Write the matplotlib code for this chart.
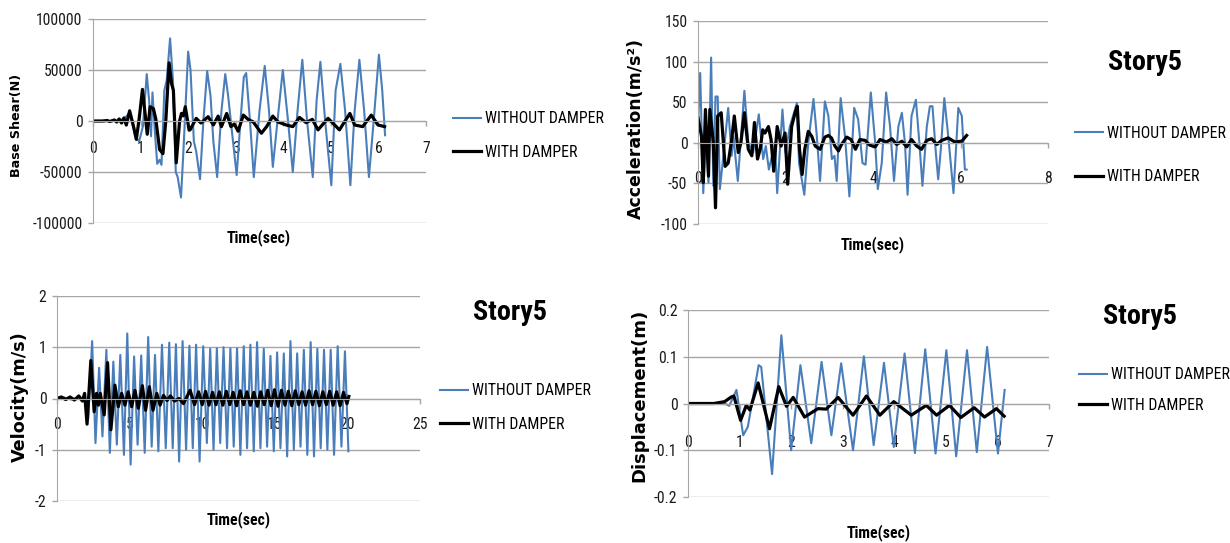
import numpy as np
import matplotlib
matplotlib.use('Agg')
import matplotlib.pyplot as plt
from matplotlib import font_manager

# --- data ---
# Base shear (N), story 5
shear_t_wo = [0, 0.3, 0.5, 0.65, 0.77, 0.9, 0.97, 1.05, 1.13, 1.18, 1.22, 1.25, 1.3, 1.35, 1.4, 1.44,
              1.5, 1.55, 1.62, 1.68, 1.74, 1.78, 1.85, 1.9, 2.0, 2.05, 2.12, 2.17, 2.25, 2.32, 2.4, 2.47,
              2.53, 2.61, 2.7, 2.78, 2.84, 2.92, 3.02, 3.1, 3.17, 3.22, 3.3, 3.38, 3.5, 3.61, 3.7, 3.78,
              3.9, 3.99, 4.1, 4.2, 4.3, 4.4, 4.5, 4.62, 4.7, 4.78, 4.88, 5.01, 5.1, 5.2, 5.3, 5.41,
              5.5, 5.6, 5.7, 5.8, 5.9, 6.01, 6.08, 6.14]
shear_v_wo = [0, 0, 0, 2000, 8000, -16000, -20000, -5000, 46000, 20000, -15000, 28000, -10000, -42000, -38000, -43000,
              30000, 40000, 81000, 40000, -50000, -55000, -75000, -30000, 68000, 50000, -20000, -30000, -57000, 0, 49000, 25000,
              -20000, -55000, 10000, 46000, 25000, -10000, -53000, 0, 43000, 47000, 0, -55000, 10000, 54000, 10000, -45000,
              10000, 50000, 0, -50000, 10000, 60000, 0, -55000, 20000, 58000, 0, -63000, 30000, 56000, 10000, -63000,
              10000, 60000, 10000, -55000, 0, 65000, 30000, -14000]
shear_t_w = [0, 0.2, 0.3, 0.35, 0.45, 0.5, 0.55, 0.6, 0.65, 0.7, 0.77, 0.85, 0.91, 0.97, 1.04, 1.1,
             1.14, 1.2, 1.27, 1.32, 1.4, 1.47, 1.53, 1.6, 1.65, 1.69, 1.75, 1.82, 1.86, 1.9, 1.94, 2.02,
             2.04, 2.17, 2.27, 2.42, 2.53, 2.63, 2.7, 2.81, 2.9, 2.97, 3.05, 3.16, 3.26, 3.37, 3.54, 3.65,
             3.78, 3.89, 4.06, 4.2, 4.34, 4.48, 4.61, 4.73, 4.94, 5.04, 5.18, 5.4, 5.5, 5.67, 5.85, 5.99, 6.13]
shear_v_w = [0, 0, 500, -500, 1000, -1000, 2000, -2000, 3000, -4000, 10000, -5000, -18000, 2000, 31000, 5000,
             -13000, 14000, 12000, 2000, -28000, -32000, 0, 57000, 37000, 30000, -41000, 0, 7500, 5000, 14000, -9000,
             -8700, 2600, -2000, 4200, -3900, 4800, -5500, 7400, -5500, -3000, -10000, 5800, 1600, -1000, -12000, -5500,
             4800, -1000, -3900, -5500, 3500, -1600, 1600, -8700, 2600, -2000, -8700, 7400, -3900, -5500, 5800, -3900, -5500]

# Acceleration (m/s2), story 5
acc_t_wo = [0, 0.05, 0.12, 0.18, 0.24, 0.3, 0.35, 0.4, 0.45, 0.5, 0.58, 0.69, 0.77, 0.81, 0.91, 1.06,
            1.15, 1.26, 1.39, 1.49, 1.55, 1.62, 1.76, 1.81, 1.93, 2.0, 2.1, 2.26, 2.31, 2.43, 2.52, 2.64,
            2.71, 2.79, 2.9, 2.98, 3.06, 3.12, 3.17, 3.26, 3.36, 3.46, 3.57, 3.66, 3.76, 3.83, 3.95, 4.05,
            4.11, 4.2, 4.3, 4.39, 4.48, 4.58, 4.66, 4.73, 4.79, 4.88, 4.98, 5.06, 5.13, 5.23, 5.3, 5.36,
            5.43, 5.49, 5.55, 5.63, 5.72, 5.84, 5.95, 6.03, 6.1, 6.14]
acc_v_wo = [20, 86, -62, 10, -49, 105, -53, 57, 57, -57, -16, 43, -16, 8, -47, 64,
            0, -12, 35, -20, -4, -33, 0, -62, 41, -12, 20, 49, -25, -64, 0, 54,
            12, -47, 51, 33, -20, -16, -47, 55, 8, -66, 43, 29, -25, -27, 62, 0,
            -57, -25, 62, 20, -47, 20, 37, 0, -64, 33, 53, 0, -53, 20, 45, 45,
            -8, -45, -8, 55, 8, -62, 43, 33, -33, -33]
acc_t_w = [0, 0.08, 0.12, 0.17, 0.24, 0.27, 0.35, 0.4, 0.45, 0.53, 0.62, 0.69, 0.77, 0.83, 0.92, 0.98,
           1.06, 1.15, 1.23, 1.29, 1.36, 1.42, 1.48, 1.53, 1.61, 1.67, 1.73, 1.81, 1.9, 1.99, 2.05, 2.14,
           2.22, 2.27, 2.32, 2.38, 2.44, 2.52, 2.6, 2.68, 2.79, 2.9, 2.98, 3.05, 3.13, 3.21, 3.28, 3.4,
           3.5, 3.6, 3.7, 3.82, 3.93, 4.05, 4.16, 4.31, 4.43, 4.54, 4.66, 4.77, 4.88, 5.0, 5.11, 5.23,
           5.34, 5.46, 5.57, 5.72, 5.87, 6.03, 6.14]
acc_v_w = [31, 8, -49, 41, -41, 41, 0, -80, 33, 37, -29, -25, 4, 33, -12, 0,
           37, -8, -16, 25, -20, -8, 16, 12, 20, 4, -35, 20, -4, 12, -51, 20,
           37, 45, -8, -39, -8, 14, 8, -4, -8, 7, 9, 6, -4, -10, -2, 7,
           4, -8, 4, 3, -3, -5, 4, 1, 5, -2, 2, -5, 4, -4, -8, 3,
           5, -2, 3, 6, 1, 2, 9]

# Velocity (m/s), story 5
vel_t_lead = [0, 0.5, 1.0, 1.5, 2.0, 2.15]
vel_v_lead = [0, 0.02, -0.02, 0.03, -0.05, -0.4]
vel_peak_t = [2.42, 2.9, 3.4, 3.88, 4.36, 4.84, 5.31, 5.8, 6.28, 6.75, 7.23, 7.73, 8.19, 8.65, 9.12, 9.58,
              10.07, 10.55, 11.01, 11.47, 11.94, 12.4, 12.86, 13.32, 13.78, 14.24, 14.7, 15.16, 15.62, 16.08,
              16.54, 17.0, 17.47, 17.93, 18.39, 18.85, 19.33, 19.83]
vel_peak_v = [1.12, 0.6, 0.95, 0.72, 0.85, 1.27, 0.82, 0.84, 1.2, 0.85, 1.05, 1.09, 1.06, 1.12, 1.03, 1.05,
              1.02, 0.97, 0.98, 1.0, 0.98, 0.98, 1.02, 1.05, 1.1, 0.97, 0.83, 0.9, 0.88, 1.12,
              0.88, 0.95, 1.1, 0.97, 0.95, 0.95, 1.02, 0.92]
vel_trough_t = [2.65, 3.13, 3.64, 4.12, 4.61, 5.07, 5.55, 6.04, 6.52, 6.98, 7.49, 7.97, 8.41, 8.89, 9.35, 9.82,
                10.32, 10.78, 11.24, 11.71, 12.17, 12.63, 13.09, 13.55, 14.01, 14.47, 14.93, 15.39, 15.85, 16.31,
                16.77, 17.24, 17.7, 18.16, 18.62, 19.08, 19.59, 20.07]
vel_trough_v = [-0.87, -0.74, -1.06, -0.9, -1.1, -1.29, -0.9, -1.06, -0.94, -1.03, -0.97, -0.97, -1.23, -1.0, -0.97, -1.23,
                -0.87, -1.0, -0.87, -0.97, -0.94, -1.1, -0.97, -1.03, -0.97, -0.94, -1.03, -0.97, -1.13, -1.0,
                -0.94, -1.1, -1.13, -0.97, -1.0, -1.1, -0.94, -1.03]
vel_t_w = [0, 0.3, 0.6, 0.9, 1.2, 1.5, 1.75, 1.9, 2.07, 2.33, 2.56, 2.72, 2.85, 2.98, 3.25, 3.48,
           3.71, 3.99, 4.22, 4.45, 4.68, 4.9, 5.14, 5.37, 5.6, 5.88, 6.1, 6.36, 6.61, 6.87, 7.1, 7.33,
           7.58, 7.81, 8.09, 8.41, 8.71, 9.17, 9.47, 9.75, 10.0, 10.23, 10.47, 10.71, 10.95, 11.18, 11.42, 11.66,
           11.9, 12.13, 12.37, 12.61, 12.85, 13.08, 13.32, 13.56, 13.8, 14.03, 14.27, 14.51, 14.75, 14.98, 15.22, 15.46,
           15.7, 15.93, 16.17, 16.41, 16.65, 16.88, 17.12, 17.36, 17.6, 17.83, 18.07, 18.31, 18.55, 18.78, 19.02, 19.26,
           19.5, 19.73, 19.97, 20.1]
vel_v_w = [0, 0.03, -0.02, 0.03, -0.03, 0.05, -0.05, 0.1, -0.5, 0.74, -0.26, 0.1, -0.13, 0.1, -0.32, 0.7,
           -0.61, 0.26, -0.16, 0.1, -0.13, 0.13, -0.16, 0.16, -0.19, 0.25, -0.23, 0.23, -0.23, 0.1, -0.13, 0.06,
           -0.04, 0.05, -0.05, 0.0, -0.1, 0.16, -0.12, 0.13, -0.12, 0.14, -0.13, 0.12, -0.12, 0.13, -0.13, 0.14,
           -0.12, 0.12, -0.14, 0.15, -0.12, 0.13, -0.13, 0.12, -0.15, 0.13, -0.12, 0.16, -0.14, 0.17, -0.15, 0.16,
           -0.13, 0.14, -0.14, 0.15, -0.12, 0.13, -0.13, 0.15, -0.12, 0.14, -0.14, 0.13, -0.12, 0.14, -0.13, 0.13,
           -0.14, 0.12, -0.1, 0.04]

# Displacement (m), story 5
disp_t_wo = [0, 0.5, 0.71, 0.8, 0.94, 1.07, 1.16, 1.37, 1.42, 1.63, 1.81, 2.0, 2.18, 2.39, 2.59, 2.78,
             2.97, 3.2, 3.41, 3.6, 3.8, 3.99, 4.2, 4.4, 4.6, 4.8, 5.01, 5.2, 5.41, 5.6, 5.8, 6.01, 6.14]
disp_v_wo = [0, 0, 0, -0.005, 0.029, -0.068, -0.05, 0.082, 0.078, -0.151, 0.146, -0.1, 0.082, -0.085, 0.089, -0.068,
             0.086, -0.1, 0.101, -0.089, 0.087, -0.093, 0.107, -0.106, 0.116, -0.107, 0.114, -0.113, 0.114, -0.104, 0.121, -0.107, 0.029]
disp_t_w = [0, 0.5, 0.71, 0.84, 0.89, 1.02, 1.13, 1.2, 1.36, 1.58, 1.76, 1.91, 2.04, 2.26, 2.52, 2.68,
            2.91, 3.2, 3.46, 3.72, 3.99, 4.33, 4.62, 4.82, 5.07, 5.29, 5.55, 5.75, 5.98, 6.13]
disp_v_w = [0, 0, 0.004, 0.014, 0.016, -0.036, -0.004, -0.014, 0.044, -0.054, 0.036, -0.006, 0.013, -0.029, -0.011, -0.012,
            0.013, -0.025, 0.016, -0.025, 0.004, -0.025, -0.004, -0.025, -0.004, -0.03, -0.009, -0.029, -0.011, -0.027]

LABELS = ['WITHOUT DAMPER', 'WITH DAMPER']

# velocity "without damper" is stored as peaks and troughs, merge them in time order
vel_t_wo = vel_t_lead + list(np.column_stack([vel_peak_t, vel_trough_t]).ravel())
vel_v_wo = vel_v_lead + list(np.column_stack([vel_peak_v, vel_trough_v]).ravel())


# --- fonts: the original uses Calibri, look for something narrow ---
def pick_narrow():
    fl = font_manager.fontManager.ttflist
    for name in ['Liberation Sans Narrow', 'Roboto Condensed', 'Open Sans Condensed', 'Noto Sans Condensed']:
        if any(f.name == name for f in fl):
            return name, 'normal'
    for name in ['Noto Sans', 'Open Sans', 'Roboto', 'DejaVu Sans']:
        if any(f.name == name and f.stretch in ('condensed', 'semi-condensed') for f in fl):
            return name, 'condensed'
    return 'Liberation Sans', 'normal'


narrow, stretch = pick_narrow()
plt.rcParams['font.family'] = [narrow, 'DejaVu Sans']
plt.rcParams['font.stretch'] = stretch
plt.rcParams['axes.unicode_minus'] = False

BLUE = '#4a7ebb'
GRID = '#a6a6a6'
W, H = 1230, 543

fig = plt.figure(figsize=(12.3, 5.43), dpi=100)
renderer = fig.canvas.get_renderer()


def fit_size(text, width_px, weight='normal', base=11):
    # font size that gives the text the width it has in the reference
    t = fig.text(0, 0, text, fontsize=base, fontweight=weight)
    w = t.get_window_extent(renderer).width
    t.remove()
    return base * width_px / w


LEG_FS = fit_size('WITHOUT DAMPER', 118)
TIME_FS = fit_size('Time(sec)', 64, 'bold')
STORY_FS = fit_size('Story5', 74, 'bold', 20)
TICK_FS = min(fit_size('100000', 46), 12)


def box(left, top, right, bottom):
    # pixel box -> figure fraction
    return [left / W, 1 - bottom / H, (right - left) / W, (bottom - top) / H]


def panel(rect, t_wo, v_wo, t_w, v_w, xmax, xstep, yticks, ylabels, xpad):
    ax = fig.add_axes(box(*rect))
    ax.plot(t_wo, v_wo, color=BLUE, lw=1.5, label=LABELS[0])
    ax.plot(t_w, v_w, color='black', lw=2.3, label=LABELS[1])
    ax.set_xlim(0, xmax)
    ax.set_ylim(yticks[0], yticks[-1])
    ax.set_xticks(np.arange(0, xmax + 1, xstep))
    ax.set_yticks(yticks, ylabels)
    ax.spines[['top', 'right']].set_visible(False)
    ax.spines['left'].set_color(GRID)
    ax.spines['bottom'].set_color(GRID)
    ax.spines['bottom'].set_position(('data', 0))
    ax.yaxis.grid(True, color=GRID, lw=1)
    ax.set_axisbelow(True)
    ax.tick_params(colors=GRID, labelcolor='#1a1a1a', labelsize=TICK_FS, length=3.6, width=1)
    ax.tick_params(axis='x', pad=xpad)
    ax.tick_params(axis='y', pad=4)
    ax.patch.set_alpha(0)
    return ax


def legend(ax, x, y, spacing):
    ax.legend(loc='center left', bbox_to_anchor=(x / W, 1 - y / H), bbox_transform=fig.transFigure,
              frameon=False, fontsize=LEG_FS, handlelength=28 / (LEG_FS * 1.389), handletextpad=0.25,
              labelspacing=spacing, borderpad=0, borderaxespad=0)


def ylabel(x, y, text, size):
    fig.text(x / W, 1 - y / H, text, rotation=90, ha='center', va='center',
             family=['DejaVu Sans'], fontstretch='normal', fontweight='bold', fontsize=size)


def xlabel(x, y):
    fig.text(x / W, 1 - y / H, 'Time(sec)', ha='center', va='center', fontweight='bold', fontsize=TIME_FS)


def story(x, y):
    fig.text(x / W, 1 - y / H, 'Story5', ha='center', va='center', fontweight='bold', fontsize=STORY_FS)


ax1 = panel((93, 19, 426, 223), shear_t_wo, shear_v_wo, shear_t_w, shear_v_w, 7, 1,
            [-100000, -50000, 0, 50000, 100000], ['-100000', '-50000', '0', '50000', '100000'], 11)
legend(ax1, 453, 135.5, 1.2)
ylabel(17, 125, 'Base Shear(N)', 9.2)
xlabel(259, 238)

ax2 = panel((698, 21, 1048, 224), acc_t_wo, acc_v_wo, acc_t_w, acc_v_w, 8, 2,
            [-100, -50, 0, 50, 100, 150], ['-100', '-50', '0', '50', '100', '150'], 17)
legend(ax2, 1075, 155, 1.8)
ylabel(636, 128, 'Acceleration(m/s²)', 12.5)
xlabel(873, 245)
story(1145, 62)

ax3 = panel((57, 296, 420, 501), vel_t_wo, vel_v_wo, vel_t_w, vel_v_w, 25, 5,
            [-2, -1, 0, 1, 2], ['-2', '-1', '0', '1', '2'], 10)
legend(ax3, 440, 407.5, 1.2)
ylabel(20, 397, 'Velocity(m/s)', 12.7)
xlabel(239, 520)
story(510, 313)

ax4 = panel((688, 310, 1049, 497), disp_t_wo, disp_v_wo, disp_t_w, disp_v_w, 7, 1,
            [-0.2, -0.1, 0, 0.1, 0.2], ['-0.2', '-0.1', '0', '0.1', '0.2'], 19)
legend(ax4, 1079, 390, 1.0)
ylabel(639, 395, 'Displacement(m)', 13)
xlabel(879, 533)
story(1140, 317)

fig.savefig('out.png', dpi=100)
